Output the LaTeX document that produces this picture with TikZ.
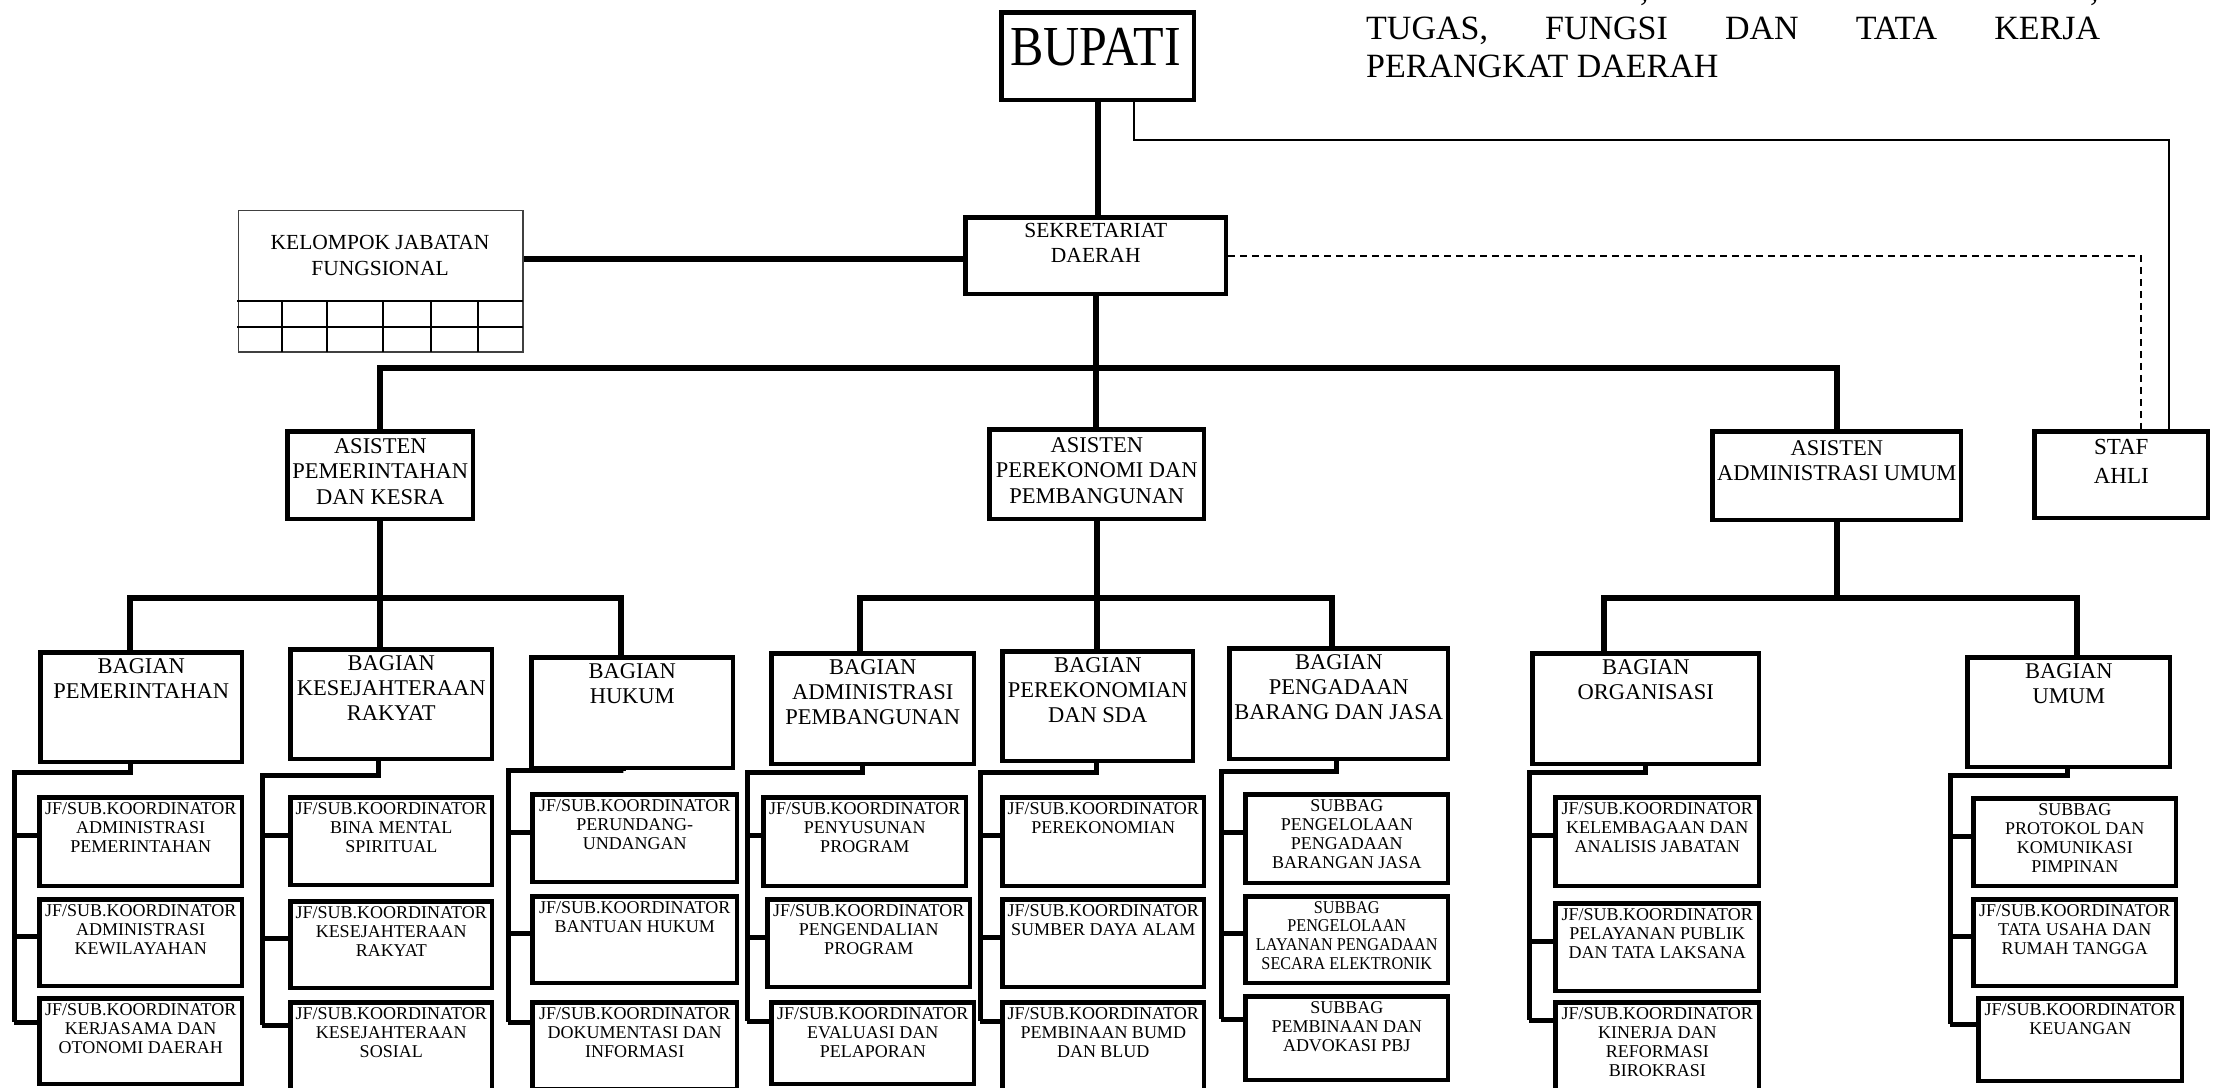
\documentclass[tikz,border=0pt]{standalone}
\usepackage{graphicx}
\usepackage{fontspec}
\setmainfont{Liberation Serif}
\newfontfamily\narrowserif{Liberation Serif}[FakeStretch=0.9]
\usetikzlibrary{calc}

% font sizes for the different box levels
\newcommand\fchild{\fontsize{18}{19.2}\selectfont}
\newcommand\fchildnarrow{\narrowserif\fontsize{18}{18.8}\selectfont}
\newcommand\fbag{\fontsize{22.5}{25}\selectfont}
\newcommand\fasis{\fontsize{22.5}{25.5}\selectfont}
\newcommand\fsek{\fontsize{21.5}{25}\selectfont}
\newcommand\fstaf{\fontsize{23}{29}\selectfont}
\newcommand\fkjf{\fontsize{21.5}{26}\selectfont}
\newcommand\ftitle{\fontsize{34}{38}\selectfont}

% \orgbox{name}{x1}{y1}{x2}{y2}: framed box given by its outer edges
\newcommand\orgbox[5]{\node[box, minimum width={#4-#2-4.5}, minimum height={#5-#3-4.5}] (#1) at ({#2+2.25},{#3+2.25}) {};}
% \orgtext{name}{gap below outer top}{font}{text}
\newcommand\orgtext[4]{\node[boxtext, font=#3] (#1-t) at ([yshift={-(#2-2.25)}]#1.north) {#4};}
% one unit under a bagian
\newcommand\subunit[6]{\orgbox{#1}{#2}{#3}{#4}{#5}\orgtext{#1}{9}{\fchild}{#6}}
% elbow connector from a bagian to its three units
% #1 prefix, #2 parent, #3 drop offset, #4 spine x, #5 elbow y, #6 last stub y
\newcommand\subunits[6]{%
  \coordinate (#1e) at (#4,#5);
  \coordinate (#1s) at (#4,#6);
  \draw[branch] ([xshift=#3pt]#2.south) |- (#1e) -- (#1s);
  \foreach \c in {#1a,#1b}{\path ([yshift=6pt]\c.west) coordinate (stub); \draw[branch] (#1s |- stub) -- (stub);}
  \draw[branch] (#1s) -- (#1s -| #1c.west);
}

\begin{document}
\begin{tikzpicture}[x=1pt,y=-1pt,
  box/.style={draw, line width=4.5pt, inner sep=0pt, anchor=north west},
  boxtext/.style={anchor=north, align=center, inner sep=0pt},
  trunk/.style={line width=6pt},
  branch/.style={line width=5pt},
  fine/.style={line width=2pt},
  dashline/.style={line width=2pt, dash pattern=on 7pt off 5pt},
  gridline/.style={line width=1.5pt}]

\fill[white] (0,0) rectangle (2216,1087);
\useasboundingbox (0,0) rectangle (2216,1087);

% ---------- heading text ----------
\node[anchor=base west, inner sep=0pt, font=\ftitle] (comma1) at (1640,0) {,};
\node[anchor=base west, inner sep=0pt, font=\ftitle] (comma2) at (2090,0) {,};
\node[anchor=base west, inner sep=0pt, font=\ftitle] (title1) at (1366,39)
  {\hbox to 734pt{TUGAS,\hfill FUNGSI\hfill DAN\hfill TATA\hfill KERJA}};
\node[anchor=base west, inner sep=0pt, font=\ftitle] (title2) at (1366,77) {PERANGKAT DAERAH};

% ---------- top level ----------
\orgbox{bupati}{997}{8}{1194}{100}
\node[anchor=base, inner sep=0pt, font=\fontsize{50}{50}\selectfont] (bupati-t) at (1095.5,65) {\scalebox{1}[1.13]{BUPATI}};

\orgbox{sekda}{961}{213}{1226}{294}
\orgtext{sekda}{10}{\fsek}{SEKRETARIAT\\DAERAH}

% kelompok jabatan fungsional with its grid
\node[draw=black!75, line width=1.5pt, inner sep=0pt, anchor=north west,
      minimum width=284.5, minimum height=141.5] (kjf) at (237.75,209.75) {};
\node[boxtext, font=\fkjf] (kjf-t) at (380,235) {KELOMPOK JABATAN\\FUNGSIONAL};
\draw[gridline] (237,301) -- (523,301) (237,327) -- (523,327);
\foreach \gx in {282,327,383,431,478} \draw[gridline] (\gx,301) -- (\gx,352);

% ---------- asisten level ----------
\orgbox{asis1}{283}{427}{473}{519}
\orgtext{asis1}{11}{\fasis}{ASISTEN\\PEMERINTAHAN\\DAN KESRA}
\orgbox{asis2}{985}{425}{1204}{519}
\orgtext{asis2}{12}{\fasis}{ASISTEN\\PEREKONOMI DAN\\PEMBANGUNAN}
\orgbox{asis3}{1708}{427}{1961}{520}
\orgtext{asis3}{13}{\fasis}{ASISTEN\\ADMINISTRASI UMUM}
\orgbox{staf}{2030}{427}{2208}{518}
\orgtext{staf}{12}{\fstaf}{STAF\\AHLI}

% ---------- bagian level ----------
\orgbox{b1}{36}{648}{242}{762}    \orgtext{b1}{10}{\fbag}{BAGIAN\\PEMERINTAHAN}
\orgbox{b2}{286}{645}{492}{759}   \orgtext{b2}{10}{\fbag}{BAGIAN\\KESEJAHTERAAN\\RAKYAT}
\orgbox{b3}{527}{653}{733}{768}   \orgtext{b3}{10}{\fbag}{BAGIAN\\HUKUM}
\orgbox{b4}{767}{649}{974}{764}   \orgtext{b4}{10}{\fbag}{BAGIAN\\ADMINISTRASI\\PEMBANGUNAN}
\orgbox{b5}{998}{647}{1193}{761}  \orgtext{b5}{10}{\fbag}{BAGIAN\\PEREKONOMIAN\\DAN SDA}
\orgbox{b6}{1225}{644}{1448}{759} \orgtext{b6}{10}{\fbag}{BAGIAN\\PENGADAAN\\BARANG DAN JASA}
\orgbox{b7}{1528}{649}{1759}{764} \orgtext{b7}{10}{\fbag}{BAGIAN\\ORGANISASI}
\orgbox{b8}{1963}{653}{2170}{767} \orgtext{b8}{10}{\fbag}{BAGIAN\\UMUM}

% ---------- units ----------
\subunit{g1a}{35}{793}{242}{886}{JF/SUB.KOORDINATOR\\ADMINISTRASI\\PEMERINTAHAN}
\subunit{g1b}{35}{895}{242}{986}{JF/SUB.KOORDINATOR\\ADMINISTRASI\\KEWILAYAHAN}
\subunit{g1c}{35}{994}{242}{1084}{JF/SUB.KOORDINATOR\\KERJASAMA DAN\\OTONOMI DAERAH}

\subunit{g2a}{286}{793}{492}{885}{JF/SUB.KOORDINATOR\\BINA MENTAL\\SPIRITUAL}
\subunit{g2b}{286}{897}{492}{988}{JF/SUB.KOORDINATOR\\KESEJAHTERAAN\\RAKYAT}
\subunit{g2c}{286}{998}{492}{1094}{JF/SUB.KOORDINATOR\\KESEJAHTERAAN\\SOSIAL}

\subunit{g3a}{528}{790}{737}{882}{JF/SUB.KOORDINATOR\\PERUNDANG-\\UNDANGAN}
\subunit{g3b}{528}{892}{737}{983}{JF/SUB.KOORDINATOR\\BANTUAN HUKUM}
\subunit{g3c}{528}{998}{737}{1089}{JF/SUB.KOORDINATOR\\DOKUMENTASI DAN\\INFORMASI}

\subunit{g4a}{759}{793}{966}{886}{JF/SUB.KOORDINATOR\\PENYUSUNAN\\PROGRAM}
\subunit{g4b}{763}{895}{970}{987}{JF/SUB.KOORDINATOR\\PENGENDALIAN\\PROGRAM}
\subunit{g4c}{767}{998}{974}{1084}{JF/SUB.KOORDINATOR\\EVALUASI DAN\\PELAPORAN}

\subunit{g5a}{998}{793}{1204}{886}{JF/SUB.KOORDINATOR\\PEREKONOMIAN}
\subunit{g5b}{998}{895}{1204}{987}{JF/SUB.KOORDINATOR\\SUMBER DAYA ALAM}
\subunit{g5c}{998}{998}{1204}{1094}{JF/SUB.KOORDINATOR\\PEMBINAAN BUMD\\DAN BLUD}

\subunit{g6a}{1241}{790}{1448}{883}{SUBBAG\\PENGELOLAAN\\PENGADAAN\\BARANGAN JASA}
\orgbox{g6b}{1241}{892}{1448}{983}
\orgtext{g6b}{9}{\fchildnarrow}{SUBBAG\\PENGELOLAAN\\LAYANAN PENGADAAN\\SECARA ELEKTRONIK}
\subunit{g6c}{1241}{992}{1448}{1080}{SUBBAG\\PEMBINAAN DAN\\ADVOKASI PBJ}

\subunit{g7a}{1551}{793}{1759}{886}{JF/SUB.KOORDINATOR\\KELEMBAGAAN DAN\\ANALISIS JABATAN}
\subunit{g7b}{1551}{899}{1759}{991}{JF/SUB.KOORDINATOR\\PELAYANAN PUBLIK\\DAN TATA LAKSANA}
\subunit{g7c}{1551}{998}{1759}{1094}{JF/SUB.KOORDINATOR\\KINERJA DAN\\REFORMASI\\BIROKRASI}

\subunit{g8a}{1969}{794}{2176}{886}{SUBBAG\\PROTOKOL DAN\\KOMUNIKASI\\PIMPINAN}
\subunit{g8b}{1969}{895}{2176}{986}{JF/SUB.KOORDINATOR\\TATA USAHA DAN\\RUMAH TANGGA}
\subunit{g8c}{1974}{994}{2182}{1081}{JF/SUB.KOORDINATOR\\KEUANGAN}

% ---------- connectors, upper part ----------
\coordinate (kjfline) at (0,259);
\draw[trunk] (kjf.east |- kjfline) -- (sekda.west |- kjfline);
\draw[trunk] (bupati.south) -- (bupati.south |- sekda.north);

\coordinate (staffline) at (2169,140);
\draw[fine] ([xshift=36pt]bupati.south) |- (staffline) -- (staffline |- staf.north);
\draw[dashline] (sekda.east) -| ([xshift=20pt]staf.north);

\coordinate (topbar) at (0,368);
\draw[trunk] (sekda.south) -- (sekda.south |- asis2.north);
\draw[trunk] (asis1.north) -- (asis1.north |- topbar) -- (asis3.north |- topbar) -- (asis3.north);

% asisten to bagian
\coordinate (bar1l) at (130,598);  \coordinate (bar1r) at (621,598);
\coordinate (bar2l) at (860,598);  \coordinate (bar2r) at (1332,598);
\coordinate (bar3l) at (1604,598); \coordinate (bar3r) at (2077,598);
\draw[trunk] (asis1.south) -- (asis1.south |- b2.north);
\draw[trunk] (bar1l |- b1.north) -- (bar1l) -- (bar1r) -- (bar1r |- b3.north);
\draw[trunk] (asis2.south) -- (asis2.south |- b5.north);
\draw[trunk] (bar2l |- b4.north) -- (bar2l) -- (bar2r) -- (bar2r |- b6.north);
\draw[trunk] (asis3.south) -- (asis3.south |- bar3l);
\draw[trunk] (bar3l |- b7.north) -- (bar3l) -- (bar3r) -- (bar3r |- b8.north);

% bagian to units
\subunits{g1}{b1}{-11}{14}{772}{1022}
\subunits{g2}{b2}{-13}{262}{775}{1025}
\subunits{g3}{b3}{-9}{508}{770}{1022}
\subunits{g4}{b4}{-10}{747}{772}{1021}
\subunits{g5}{b5}{-1.5}{980}{772}{1021}
\subunits{g6}{b6}{-2.5}{1221}{771}{1019}
\subunits{g7}{b7}{0}{1529}{772}{1020}
\subunits{g8}{b8}{-1.5}{1950}{775}{1024}

\end{tikzpicture}
\end{document}
